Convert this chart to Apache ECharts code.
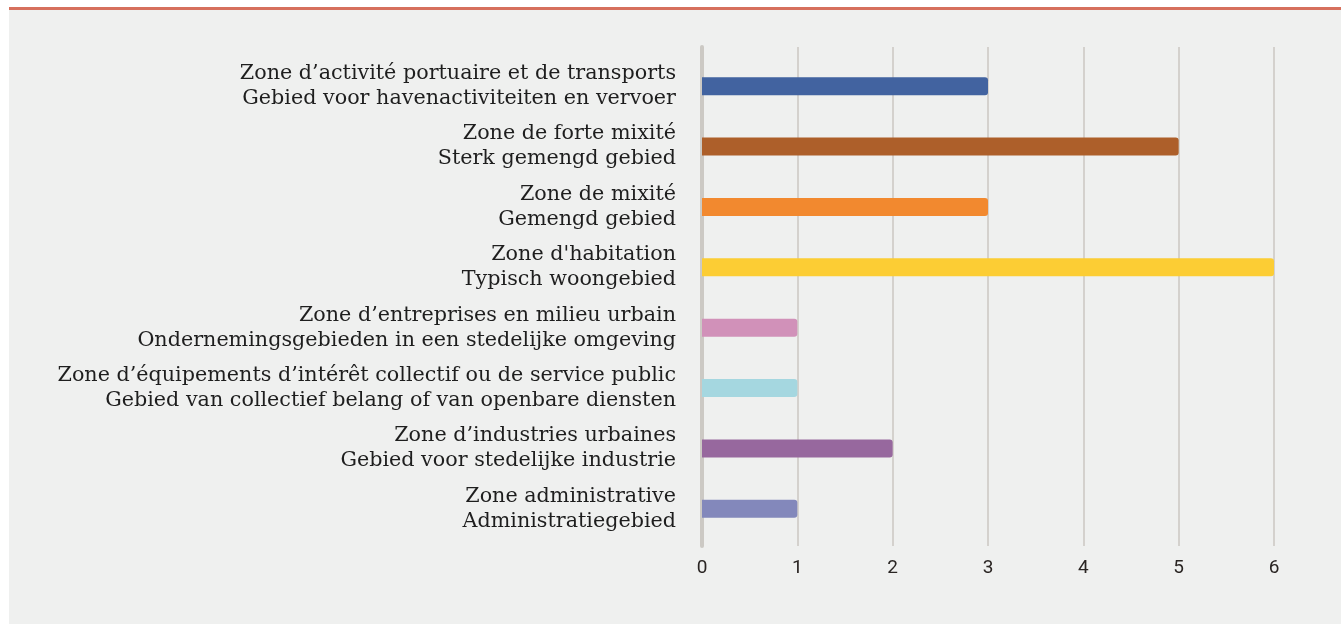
<!DOCTYPE html>
<html>
<head>
<meta charset="utf-8">
<script src="https://cdn.jsdelivr.net/npm/echarts@6/dist/echarts.min.js"></script>
<style>
  html, body { margin: 0; padding: 0; background: #ffffff; }
  #panel {
    position: absolute; left: 9px; top: 7px; right: 0; bottom: 0;
    background: #eff0ef; border-top: 3px solid #d6705d;
  }
  #chart { position: absolute; left: 0; top: 0; width: 1341px; height: 624px; }
</style>
</head>
<body>
<div id="panel"></div>
<div id="chart"></div>
<script>
// zones, French / Dutch label lines
const zonesFr = [
  'Zone d\u2019activité portuaire et de transports',
  'Zone de forte mixité',
  'Zone de mixité',
  'Zone d\'habitation',
  'Zone d\u2019entreprises en milieu urbain',
  'Zone d\u2019équipements d\u2019intérêt collectif ou de service public',
  'Zone d\u2019industries urbaines',
  'Zone administrative'
];
const zonesNl = [
  'Gebied voor havenactiviteiten en vervoer',
  'Sterk gemengd gebied',
  'Gemengd gebied',
  'Typisch woongebied',
  'Ondernemingsgebieden in een stedelijke omgeving',
  'Gebied van collectief belang of van openbare diensten',
  'Gebied voor stedelijke industrie',
  'Administratiegebied'
];
const counts = [3, 5, 3, 6, 1, 1, 2, 1];
const barColors = ['#4263a0', '#ad5f2a', '#f2892f', '#fccd34', '#d191b9', '#a5d7e0', '#97689e', '#8388bb'];
const xTicks = [0, 1, 2, 3, 4, 5, 6];

const chart = echarts.init(document.getElementById('chart'));

const labels = zonesFr.map((fr, i) => fr + '\n' + zonesNl[i]);

chart.setOption({
  animation: false,
  backgroundColor: 'transparent',
  grid: [
    // bars
    { left: 702, right: 67, top: 56, bottom: 85 },
    // grid lines + tick labels
    { left: 702, right: 67, top: 47, bottom: 78 }
  ],
  xAxis: [
    { gridIndex: 0, type: 'value', min: 0, max: 6, show: false },
    {
      gridIndex: 1, type: 'value',
      min: xTicks[0], max: xTicks[xTicks.length - 1], interval: 1,
      axisLine: { show: false },
      axisTick: { show: false },
      axisLabel: { color: '#2a2523', fontFamily: 'Roboto', fontSize: 19, margin: 13 },
      splitLine: { show: true, lineStyle: { color: '#d4d1cd', width: 2 } }
    }
  ],
  yAxis: [
    {
      gridIndex: 0, type: 'category', inverse: true, data: labels,
      axisLine: { show: false },
      axisTick: { show: false },
      axisLabel: {
        color: '#1e1e1e', fontFamily: 'DejaVu Serif', fontSize: 20.7,
        lineHeight: 25, margin: 26, align: 'right'
      }
    },
    {
      gridIndex: 1, type: 'value', min: 0, max: 1,
      axisLine: { show: true, onZero: false, lineStyle: { color: '#ccc9c4', width: 4 } },
      axisTick: { show: false },
      axisLabel: { show: false },
      splitLine: { show: false }
    }
  ],
  series: [{
    type: 'bar',
    xAxisIndex: 0,
    yAxisIndex: 0,
    barWidth: 18,
    data: counts.map((v, i) => ({ value: v, itemStyle: { color: barColors[i] } })),
    itemStyle: { borderRadius: [0, 3, 3, 0] }
  }]
});
</script>
</body>
</html>
